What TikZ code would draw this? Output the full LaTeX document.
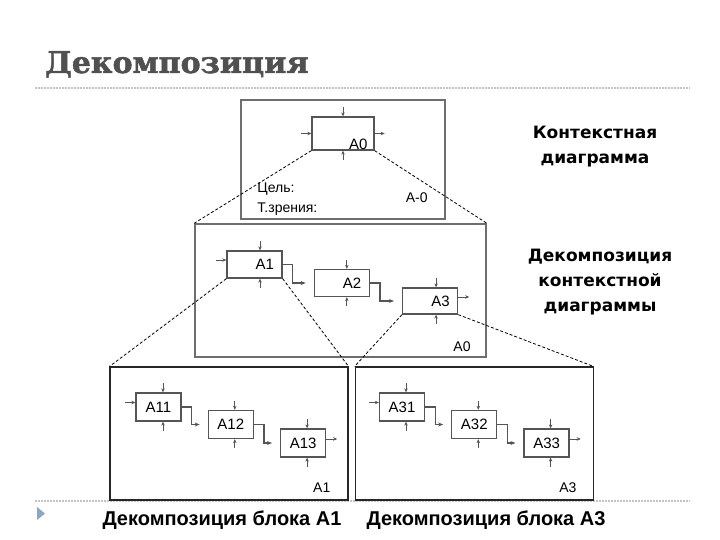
\documentclass[tikz,border=0pt]{standalone}
\usepackage{fontspec}
\setmainfont{Liberation Sans}
\newfontfamily\titlefont{DejaVu Serif}[BoldFeatures={FakeBold=1.6}]
\newfontfamily\notefont{DejaVu Sans}
\usepackage{tikz}
\usetikzlibrary{%
  arrows.meta, positioning, calc
}
\usepackage{xcolor}
\tikzstyle{blk} = [%
  rectangle,
  draw=blkGray,
  line width=1.3pt,
  minimum height=27pt,
  text width=39pt,
  inner xsep=8pt,
  inner ysep=0pt,
  align=right,
  font=\fontsize{15}{15}\selectfont
]
\tikzstyle{sblk} = [%
  rectangle,
  draw=blkGray,
  line width=1.3pt,
  minimum width=45pt,
  minimum height=28pt,
  inner sep=0pt,
  align=center,
  font=\fontsize{15}{15}\selectfont
]
\definecolor{blkGray}{HTML}{555555}
\definecolor{frameGray}{HTML}{6E6E6E}
\definecolor{titleGray}{HTML}{505050}
\definecolor{ruleGray}{HTML}{C4C4C4}
\definecolor{bulletBlue}{HTML}{8FA6C1}

\begin{document}
\begin{tikzpicture}[%
  x=1pt, y=-1pt,
  ctrl/.style={%
    -{Stealth[length=4pt,width=3.5pt]},
    line width=0.8pt,
    draw=blkGray
  },
  flow/.style={%
    -{Stealth[length=5pt,width=4pt]},
    line width=1.2pt,
    draw=blkGray
  },
  zoomline/.style={dash pattern=on 3pt off 2pt, line width=0.8pt},
  frame/.style={draw=frameGray,line width=1.5pt,inner sep=0pt},
  sheet/.style={draw=black!85,line width=1.1pt,inner sep=0pt,
    minimum width=238pt,minimum height=133pt},
  lbl/.style={font=\fontsize{14}{14}\selectfont,inner sep=0pt},
  note/.style={font=\notefont\bfseries\fontsize{17}{25}\selectfont,align=center},
  caption/.style={font=\bfseries\fontsize{20}{22}\selectfont}
]
  \useasboundingbox (0,0) rectangle (720,540);

  % Title and rules
  \node[anchor=base west,inner sep=0pt,text=titleGray,
    font=\titlefont\bfseries\fontsize{30}{32}\selectfont] (title) at (45,73) {Декомпозиция};
  \draw[ruleGray,line width=1.2pt,dash pattern=on 1.5pt off 1.5pt] (35,88) -- (690,88);
  \draw[ruleGray,line width=1.2pt,dash pattern=on 1.5pt off 1.5pt] (35,501) -- (690,501);
  \fill[bulletBlue] (37,507) -- (45,513.5) -- (37,520) -- cycle;

  % Frames
  \node[frame,minimum width=204pt,minimum height=119pt] (ctx) at (343,159.5) {};
  \node[frame,minimum width=291pt,minimum height=133pt] (dec) at (340.5,290.5) {};
  \node[sheet] (sheet1) at (229,433.5) {};
  \node[sheet,right=6pt of sheet1] (sheet3) {};

  % Nodes
  \node[blk,text width=46pt,minimum height=33pt,
    label={[anchor=base east,inner sep=0pt,xshift=-7pt,yshift=1pt,font=\fontsize{15}{15}\selectfont]south east:A0}]
    (A0) at (343,133.5) {};
  \node[blk] (A1) at (254.5,264.5) {A1};
  \node[blk,right=31pt of A1,yshift=-18.5pt] (A2) {A2};
  \node[blk,right=32pt of A2,yshift=-18pt,minimum height=26pt] (A3) {A3};

  \node[sblk] (A11) at (158.5,407) {A11};
  \node[sblk,right=26pt of A11,yshift=-17.5pt] (A12) {A12};
  \node[sblk,right=26pt of A12,yshift=-18.5pt] (A13) {A13};

  \node[sblk] (A31) at (402,407) {A31};
  \node[sblk,right=26pt of A31,yshift=-17.5pt] (A32) {A32};
  \node[sblk,right=26pt of A32,yshift=-18.5pt] (A33) {A33};

  % Frame labels
  \node[lbl,anchor=west] (goal) at ([xshift=17pt,yshift=31pt]ctx.south west) {Цель:};
  \node[lbl,anchor=west] (view) at ([yshift=-20pt]goal.west) {Т.зрения:};
  \node[lbl,anchor=east] (ctxname) at ([xshift=-18pt,yshift=22pt]ctx.south east) {A-0};
  \node[lbl,anchor=east] (decname) at ([xshift=-16pt,yshift=11pt]dec.south east) {A0};
  \node[lbl,anchor=east] (name1) at ([xshift=-18pt,yshift=13pt]sheet1.south east) {A1};
  \node[lbl,anchor=east] (name3) at ([xshift=-17pt,yshift=13pt]sheet3.south east) {A3};

  \node[note] (ctxnote) at (595,147) {Контекстная\\диаграмма};
  \node[note] (decnote) at (600,282) {Декомпозиция\\контекстной\\диаграммы};
  \node[caption] (cap1) at (222,520) {Декомпозиция блока A1};
  \node[caption] (cap3) at (486,520) {Декомпозиция блока A3};

  % Control and mechanism arrows
  \foreach \b/\dx in {A0/0,A1/5.5,A2/5,A3/6,A11/4.5,A12/4,A13/4,A31/4,A32/4,A33/4}{
    \draw[ctrl] ([xshift=\dx pt,yshift=9pt]\b.north) -- ([xshift=\dx pt]\b.north);
    \draw[ctrl] ([xshift=\dx pt,yshift=-9pt]\b.south) -- ([xshift=\dx pt]\b.south);
  }
  % Inputs and outputs
  \draw[ctrl] ([xshift=-10pt]A0.west) -- (A0.west);
  \draw[ctrl] (A0.east) -- ([xshift=10pt]A0.east);
  \foreach \i/\o in {A1/A3,A11/A13,A31/A33}{
    \draw[ctrl] ([xshift=-10pt,yshift=4.5pt]\i.west) -- ([yshift=4.5pt]\i.west);
    \draw[ctrl] ([yshift=4pt]\o.east) -- ([xshift=11pt,yshift=4pt]\o.east);
  }

  % Intra-frame edges
  \foreach \a/\b in {A1/A2,A2/A3,A11/A12,A12/A13,A31/A32,A32/A33}{
    \draw[flow] (\a.east) -- ++(10,0) |- ([xshift=-8pt]\b.west);
  }

  % Zoom lines
  \draw[zoomline] (A0.south west) -- (dec.north west);
  \draw[zoomline] (A0.south east) -- (dec.north east);
  \draw[zoomline] (A1.south west) -- (sheet1.north west);
  \draw[zoomline] (A1.south east) -- (sheet1.north east);
  \draw[zoomline] (A3.south west) -- (sheet3.north west);
  \draw[zoomline] (A3.south east) -- (sheet3.north east);

\end{tikzpicture}
\end{document}
